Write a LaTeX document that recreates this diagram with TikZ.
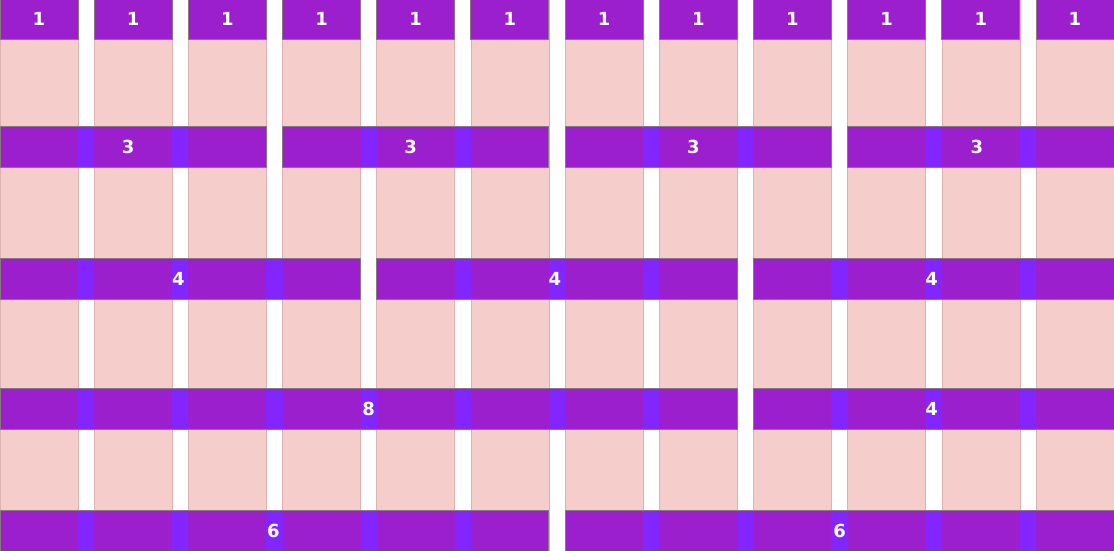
\documentclass[tikz,border=0pt]{standalone}
\usepackage{fontspec}
\setmainfont{DejaVu Sans}
\definecolor{colpink}{HTML}{F5CDCB}
\definecolor{colline}{HTML}{DDB2B2}
\definecolor{barfill}{HTML}{9B1FCD}
\definecolor{barline}{HTML}{8A7580}
\definecolor{gapfill}{HTML}{8225FE}
\newcommand{\colpitch}{94.18}
\newcommand{\colgap}{16.18}
% bar over columns: [label shift], name, first column (0-based), span, top, label
\newcommand{\gridbar}[6][0]{%
  \pgfmathsetmacro\xa{#3*\colpitch}
  \pgfmathsetmacro\xb{(#3+#4)*\colpitch-\colgap}
  \pgfmathtruncatemacro\glast{#4-1}
  \draw[bar] (\xa,#5) rectangle (\xb,#5+41);
  \ifnum#4>1
    \foreach \g in {1,...,\glast}{
      \pgfmathsetmacro\ga{(#3+\g)*\colpitch-\colgap}
      \pgfmathsetmacro\gb{(#3+\g)*\colpitch}
      \fill[gap] (\ga,#5+0.5) rectangle (\gb,#5+40.5);
    }
  \fi
  \node[num] (#2) at ({(\xa+\xb)/2+#1},#5+20.5) {#6};
}
\begin{document}
\begin{tikzpicture}[x=1pt,y=-1pt,
  column/.style={fill=colpink, draw=colline, line width=0.6pt},
  bar/.style={fill=barfill, draw=barline, line width=0.9pt},
  gap/.style={fill=gapfill},
  num/.style={text=white, inner sep=0pt, font=\bfseries\fontsize{18}{18}\selectfont}
]
\useasboundingbox (0,0) rectangle (1114,550);
\fill[white] (0,0) rectangle (1114,550);

% columns
\foreach \c in {0,...,11}{
  \draw[column] ({\c*\colpitch},-2) rectangle ({\c*\colpitch+78},552);
}

% row of ones
\foreach \c in {0,...,11}{
  \gridbar{one\c}{\c}{1}{-2}{1}
}

% row of threes
\gridbar[-5]{threeA}{0}{3}{126}{3}
\gridbar[-5]{threeB}{3}{3}{126}{3}
\gridbar[-5]{threeC}{6}{3}{126}{3}
\gridbar[-4]{threeD}{9}{3}{126}{3}

% row of fours
\gridbar[-2]{fourA}{0}{4}{258}{4}
\gridbar[-2]{fourB}{4}{4}{258}{4}
\gridbar[-2]{fourC}{8}{4}{258}{4}

% eight and four
\gridbar{eight}{0}{8}{388}{8}
\gridbar[-2]{fourD}{8}{4}{388}{4}

% sixes
\gridbar[-1]{sixA}{0}{6}{510}{6}
\gridbar{sixB}{6}{6}{510}{6}
\end{tikzpicture}
\end{document}
